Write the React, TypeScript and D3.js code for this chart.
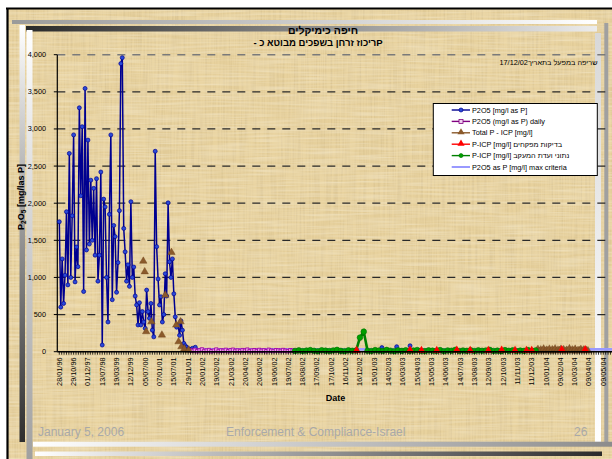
import React from 'react';
import * as d3 from 'd3';

// ---------- data ----------
const xTickLabels = [
  '28/01/96', '29/10/96', '01/12/97', '13/07/98', '19/03/99', '12/12/99', '05/07/00', '07/01/01',
  '15/07/01', '29/11/01', '20/01/02', '19/02/02', '21/03/02', '20/04/02', '20/05/02', '19/06/02',
  '19/07/02', '18/08/02', '17/09/02', '17/10/02', '16/11/02', '16/12/02', '15/01/03', '14/02/03',
  '16/03/03', '15/04/03', '15/05/03', '14/06/03', '14/07/03', '13/08/03', '12/09/03', '12/10/03',
  '11/11/03', '11/12/03', '10/01/04', '09/02/04', '10/03/04', '09/04/04', '09/05/04',
];
const CATS_PER_LABEL = 30;
const yTicks = [0, 500, 1000, 1500, 2000, 2500, 3000, 3500, 4000];

// P2O5 [mg/l as P] – sampled every 3 categories from category 0
const blueStart = 0;
const blueStep = 3;
const blueValues = [
  1750, 600, 1250, 650, 1030, 1885, 900, 2670, 1000, 1830, 2920, 940, 1410, 1145, 3285, 2100,
  3030, 810, 3545, 1370, 2850, 1450, 2310, 1500, 2200, 1300, 2330, 950, 1300, 2420, 90, 2055,
  1950, 1000, 400, 1850, 2920, 700, 1700, 1550, 800, 1200, 1900, 3880, 3960, 1660, 1345, 950,
  1170, 880, 2020, 1000, 1140, 750, 630, 360, 660, 360, 540, 400, 315, 830, 540, 450, 650, 290,
  200, 2700, 1415, 980, 630, 740, 400, 500, 1050, 750, 2005, 1210, 1000, 1250, 780, 470, 330,
  360, 220, 415, 290, 112, 80, 60, 40, 35, 25, 45, 20, 60, 15,
];
const blueLateCats = [676, 707, 735];
const blueLateValues = [55, 67, 80];

// P2O5 (mg/l as P) daily
const purpleStart = 274;
const purpleStep = 5;
const purpleValues = [
  20, 12, 25, 8, 18, 30, 10, 15, 22, 6, 14, 28, 9, 17, 12, 24, 7, 19, 26, 11, 16, 9, 21, 13, 27,
  8, 15, 20, 10, 23, 12, 18, 7, 25, 14, 9, 20, 16, 11, 22, 13, 8, 19, 15, 10,
];

// Total P - ICP
const brownEarlyCats = [176, 179, 182, 193, 215, 222, 235, 245, 250, 254, 256, 262, 271];
const brownEarlyValues = [1220, 1077, 270, 404, 225, 763, 1338, 360, 135, 404, 67, 40, 22];
const brownLateStart = 1000;
const brownLateStep = 3;
const brownLateValues = [
  12, 35, 8, 28, 15, 40, 10, 25, 18, 38, 6, 30, 14, 42, 9, 26, 20, 36, 11, 32, 7, 24, 16, 44, 10,
  29, 13, 37, 8, 22, 18, 34, 12, 27, 9, 20, 15,
];

// P-ICP inspectors
const redCats = [623, 735, 759, 791, 833, 861, 899, 927, 955, 979, 990, 1053, 1102];
const redValues = [15, 20, 15, 15, 20, 15, 15, 20, 15, 15, 15, 25, 25];

// P-ICP monitoring committee
const greenStart = 494;
const greenStep = 8;
const greenValues = [
  10, 18, 8, 15, 22, 12, 6, 20, 14, 9, 17, 25, 11, 7, 19, 13, 16, 190, 270, 12, 8, 21, 15, 10, 24,
  13, 7, 18, 11, 20, 9, 16, 23, 12, 8, 19, 14, 10, 22, 6, 17, 13, 25, 9, 15, 11, 20, 8, 18, 12,
  16, 24, 10, 14, 7, 21, 13, 19, 9, 15, 11, 22, 12, 17,
];

// max criteria
const criteriaCats = [274, 1160];
const criteriaValues = [30, 30];

const legendItems = [
  { label: 'P2O5 [mg/l as P]', color: '#000090', marker: 'circle', fill: '#2a4ad8' },
  { label: 'P2O5 (mg/l as P) daily', color: '#800080', marker: 'square', fill: '#f0d0f0' },
  { label: 'Total P -  ICP  [mg/l]', color: '#8b5a2b', marker: 'triangle', fill: '#8b5a2b' },
  { label: 'P-ICP [mg/l] בדיקות מפקחים', color: '#ff0000', marker: 'triangle', fill: '#ff0000' },
  { label: 'P-ICP [mg/l]  נתוני ועדת המעקב', color: '#008000', marker: 'circle', fill: '#00a000' },
  { label: 'P2O5 as P  [mg/l] max criteria', color: '#9999ff', marker: 'none', fill: 'none' },
];

const FONT = 'Liberation Sans, Arial, sans-serif';

export default function App() {
  const W = 612;
  const H = 459;
  const plotLeft = 57.3;
  const plotRight = 612;
  const x = d3.scaleLinear().domain([0, 38 * CATS_PER_LABEL]).range([59.3, 603.3]);
  const y = d3.scaleLinear().domain([0, 4000]).range([351.7, 54.7]);
  const line = d3.line<[number, number]>().x((d) => x(d[0])).y((d) => y(d[1]));

  const seq = (start: number, step: number, vals: number[]) =>
    vals.map((v, i) => [start + i * step, v] as [number, number]);
  const pairs = (cats: number[], vals: number[]) =>
    cats.map((c, i) => [c, vals[i]] as [number, number]);

  const blue = seq(blueStart, blueStep, blueValues);
  const blueLate = pairs(blueLateCats, blueLateValues);
  const purple = seq(purpleStart, purpleStep, purpleValues);
  const brownEarly = pairs(brownEarlyCats, brownEarlyValues);
  const brownLate = seq(brownLateStart, brownLateStep, brownLateValues);
  const red = pairs(redCats, redValues);
  const green = seq(greenStart, greenStep, greenValues);
  const criteria = pairs(criteriaCats, criteriaValues);

  const tri = d3.symbol(d3.symbolTriangle, 30)()!;
  const triBrown = d3.symbol(d3.symbolTriangle, 24)()!;
  const sq = d3.symbol(d3.symbolSquare, 12)()!;
  const triLegend = d3.symbol(d3.symbolTriangle, 22)()!;

  const minorTicks = d3.range(0, 38 * CATS_PER_LABEL + 40, 5);

  return (
    <svg width={W} height={H} style={{ position: 'absolute', left: 0, top: 0, background: '#fff' }}>
      <defs>
        <filter id="papyrusTex" x="0" y="0" width="100%" height="100%">
          <feTurbulence type="fractalNoise" baseFrequency="0.55 0.018" numOctaves="2" seed="4" result="nv" />
          <feColorMatrix in="nv" type="matrix"
            values="0 0 0 0 0.55  0 0 0 0 0.42  0 0 0 0 0.2  0.7 0 0 0 -0.25" result="cv" />
          <feTurbulence type="fractalNoise" baseFrequency="0.02 0.5" numOctaves="2" seed="9" result="nh" />
          <feColorMatrix in="nh" type="matrix"
            values="0 0 0 0 0.98  0 0 0 0 0.93  0 0 0 0 0.78  0.7 0 0 0 -0.25" result="ch" />
          <feMerge>
            <feMergeNode in="cv" />
            <feMergeNode in="ch" />
          </feMerge>
        </filter>
        <linearGradient id="hTop" x1="0" x2="1" y1="0" y2="0">
          <stop offset="0" stopColor="#9a9a9a" />
          <stop offset="1" stopColor="#ffffff" />
        </linearGradient>
        <linearGradient id="hDark" x1="0" x2="1" y1="0" y2="0">
          <stop offset="0" stopColor="#2a2a2a" />
          <stop offset="1" stopColor="#ececec" />
        </linearGradient>
        <linearGradient id="hBot1" x1="0" x2="1" y1="0" y2="0">
          <stop offset="0" stopColor="#ffffff" />
          <stop offset="1" stopColor="#8c8c8c" />
        </linearGradient>
        <linearGradient id="hBot2" x1="0" x2="1" y1="0" y2="0">
          <stop offset="0" stopColor="#ffffff" />
          <stop offset="1" stopColor="#2a2a2a" />
        </linearGradient>
        <linearGradient id="vLeft1" x1="0" x2="0" y1="0" y2="1">
          <stop offset="0" stopColor="#ffffff" />
          <stop offset="1" stopColor="#2e2e2e" />
        </linearGradient>
        <linearGradient id="vLeft2" x1="0" x2="0" y1="0" y2="1">
          <stop offset="0" stopColor="#ffffff" />
          <stop offset="1" stopColor="#a0a0a0" />
        </linearGradient>
        <linearGradient id="vRight" x1="0" x2="0" y1="0" y2="1">
          <stop offset="0" stopColor="#d8d8d8" />
          <stop offset="1" stopColor="#ffffff" />
        </linearGradient>
      </defs>

      {/* slide background & frame */}
      <rect x={0} y={0} width={W} height={H} fill="#ffffff" />
      <rect x={7} y={8.5} width={W - 7} height={H - 8.5} fill="#e8d29e" />
      <rect x={7} y={8.5} width={W - 7} height={H - 8.5} fill="#e8d29e" filter="url(#papyrusTex)" />
      <line x1={6} y1={8.5} x2={W} y2={8.5} stroke="#000" strokeWidth={2.2} />
      <line x1={7.5} y1={8} x2={7.5} y2={H} stroke="#000" strokeWidth={2.2} />

      {/* decorative bars */}
      <rect x={12} y={20} width={585} height={4} fill="url(#hTop)" />
      <rect x={26} y={26} width={571} height={5.5} fill="url(#hDark)" />
      <rect x={19.5} y={25} width={5.5} height={417} fill="url(#vLeft1)" />
      <rect x={26.5} y={30} width={6} height={429} fill="url(#vLeft2)" />
      <rect x={604.3} y={23} width={4} height={420} fill="#a0a0a0" />
      <rect x={595} y={33} width={6} height={410} fill="url(#vRight)" />
      <rect x={33} y={441.7} width={579} height={5} fill="url(#hBot1)" />
      <rect x={35} y={451.5} width={567} height={4.5} fill="url(#hBot2)" />

      {/* titles */}
      <text x={323} y={29.5} textAnchor="middle" dominantBaseline="central" fontFamily={FONT}
        fontWeight="bold" fontSize={10.5} fill="#000">חיפה כימיקלים</text>
      <text x={318} y={42.7} textAnchor="middle" dominantBaseline="central" fontFamily={FONT}
        fontWeight="bold" fontSize={9.5} fill="#000" direction="rtl" style={{ direction: 'rtl' }}>
        Pריכוז זרחן בשפכים מבוטא כ -
      </text>

      {/* gridlines */}
      {yTicks.filter((t) => t > 0).map((t) => (
        <line key={'g' + t} x1={plotLeft} x2={plotRight} y1={y(t)} y2={y(t)}
          stroke={t === 4000 ? '#7a7a7a' : '#2a2a2a'} strokeWidth={t === 4000 ? 1.6 : 1.3}
          strokeDasharray="8,7" />
      ))}

      {/* fire annotation */}
      <text x={548.5} y={62} textAnchor="middle" dominantBaseline="central" fontFamily={FONT}
        fontSize={7.3} fill="#000" direction="rtl" style={{ direction: 'rtl' }}>
        שריפה במפעל בתאריך17/12/02
      </text>

      {/* axes */}
      <line x1={plotLeft} x2={plotLeft} y1={y(4000)} y2={y(0)} stroke="#000" strokeWidth={1.2} />
      {yTicks.map((t) => (
        <g key={'yt' + t}>
          <line x1={plotLeft - 3.5} x2={plotLeft} y1={y(t)} y2={y(t)} stroke="#000" strokeWidth={1} />
          <text x={46} y={y(t)} textAnchor="end" dominantBaseline="central" fontFamily={FONT}
            fontSize={7.3} fill="#000">{d3.format(',')(t)}</text>
        </g>
      ))}
      <text transform={`translate(21,197) rotate(-90)`} textAnchor="middle" dominantBaseline="central"
        fontFamily={FONT} fontWeight="bold" fontSize={9} fill="#000">
        P<tspan fontSize={6.5} dy={2}>2</tspan><tspan dy={-2}>O</tspan><tspan fontSize={6.5} dy={2}>5</tspan>
        <tspan dy={-2}> [mg/las P]</tspan>
      </text>

      {/* criteria line */}
      <path d={line(criteria)!} fill="none" stroke="#9999ff" strokeWidth={2.8} />

      {/* P2O5 series */}
      <path d={line(blue)!} fill="none" stroke="#000090" strokeWidth={1.5} strokeLinejoin="round" />
      {blue.map((d, i) => (
        <circle key={'b' + i} cx={x(d[0])} cy={y(d[1])} r={2} fill="#2a4ad8" stroke="#000090" strokeWidth={0.7} />
      ))}
      {blueLate.map((d, i) => (
        <circle key={'bl' + i} cx={x(d[0])} cy={y(d[1])} r={2} fill="#2a4ad8" stroke="#000090" strokeWidth={0.7} />
      ))}

      {/* daily series */}
      <path d={line(purple)!} fill="none" stroke="#800080" strokeWidth={1.3} />
      {purple.map((d, i) => (
        <path key={'p' + i} d={sq} transform={`translate(${x(d[0])},${y(d[1])})`} fill="#e8a8e8" stroke="#a000a0" strokeWidth={0.9} />
      ))}

      {/* Total P ICP */}
      {brownEarly.map((d, i) => (
        <path key={'be' + i} d={triBrown} transform={`translate(${x(d[0])},${y(d[1])})`} fill="#8b5a2b" stroke="#6b3f1a" strokeWidth={0.4} />
      ))}
      <path d={line(brownLate)!} fill="none" stroke="#8b5a2b" strokeWidth={1.3} />
      {brownLate.map((d, i) => (
        <path key={'bl2' + i} d={triLegend} transform={`translate(${x(d[0])},${y(d[1])})`} fill="#8b5a2b" stroke="#6b3f1a" strokeWidth={0.3} />
      ))}

      {/* green P-ICP */}
      <path d={line(green)!} fill="none" stroke="#008000" strokeWidth={2.6} />
      {green.map((d, i) => (
        <circle key={'gr' + i} cx={x(d[0])} cy={y(d[1])} r={2.8} fill="#00a000" stroke="#007000" strokeWidth={0.6} />
      ))}

      {/* red P-ICP */}
      {red.map((d, i) => (
        <path key={'r' + i} d={tri} transform={`translate(${x(d[0])},${y(d[1])})`} fill="#ff0000" />
      ))}

      {/* x axis */}
      <line x1={plotLeft} x2={plotRight} y1={y(0)} y2={y(0)} stroke="#000" strokeWidth={1.4} />
      {minorTicks.map((c) => (
        <line key={'mt' + c} x1={x(c)} x2={x(c)} y1={y(0)} y2={y(0) + 3} stroke="#000" strokeWidth={0.8} />
      ))}
      {xTickLabels.map((lab, i) => (
        <text key={'xl' + i} transform={`translate(${x(i * CATS_PER_LABEL)},${357.5}) rotate(-90)`}
          textAnchor="end" dominantBaseline="central" fontFamily={FONT} fontSize={7.3} fill="#000">{lab}</text>
      ))}
      <text x={335.5} y={398.3} textAnchor="middle" dominantBaseline="central" fontFamily={FONT}
        fontWeight="bold" fontSize={9} fill="#000">Date</text>

      {/* legend */}
      <rect x={433.3} y={103.5} width={164} height={72} fill="#ffffff" stroke="#000" strokeWidth={1} />
      {legendItems.map((it, i) => {
        const ly = 110 + i * 11.4;
        const cx = 461;
        return (
          <g key={'lg' + i}>
            <line x1={451.7} x2={470} y1={ly} y2={ly} stroke={it.color} strokeWidth={it.marker === 'none' ? 2 : 1.4} />
            {it.marker === 'circle' && <circle cx={cx} cy={ly} r={2} fill={it.fill} stroke={it.color} strokeWidth={0.7} />}
            {it.marker === 'square' && <rect x={cx - 2} y={ly - 2} width={4} height={4} fill={it.fill} stroke={it.color} strokeWidth={0.8} />}
            {it.marker === 'triangle' && <path d={triLegend} transform={`translate(${cx},${ly - 0.5})`} fill={it.fill} />}
            <text x={472} y={ly} dominantBaseline="central" fontFamily={FONT} fontSize={7.3} fill="#000">{it.label}</text>
          </g>
        );
      })}

      {/* footer */}
      <text x={38} y={432} dominantBaseline="central" fontFamily={FONT} fontSize={12} fill="#a9a9a9">January 5, 2006</text>
      <text x={226} y={432} dominantBaseline="central" fontFamily={FONT} fontSize={12} fill="#a9a9a9">Enforcement &amp; Compliance-Israel</text>
      <text x={574} y={432} dominantBaseline="central" fontFamily={FONT} fontSize={12} fill="#a9a9a9">26</text>
    </svg>
  );
}
